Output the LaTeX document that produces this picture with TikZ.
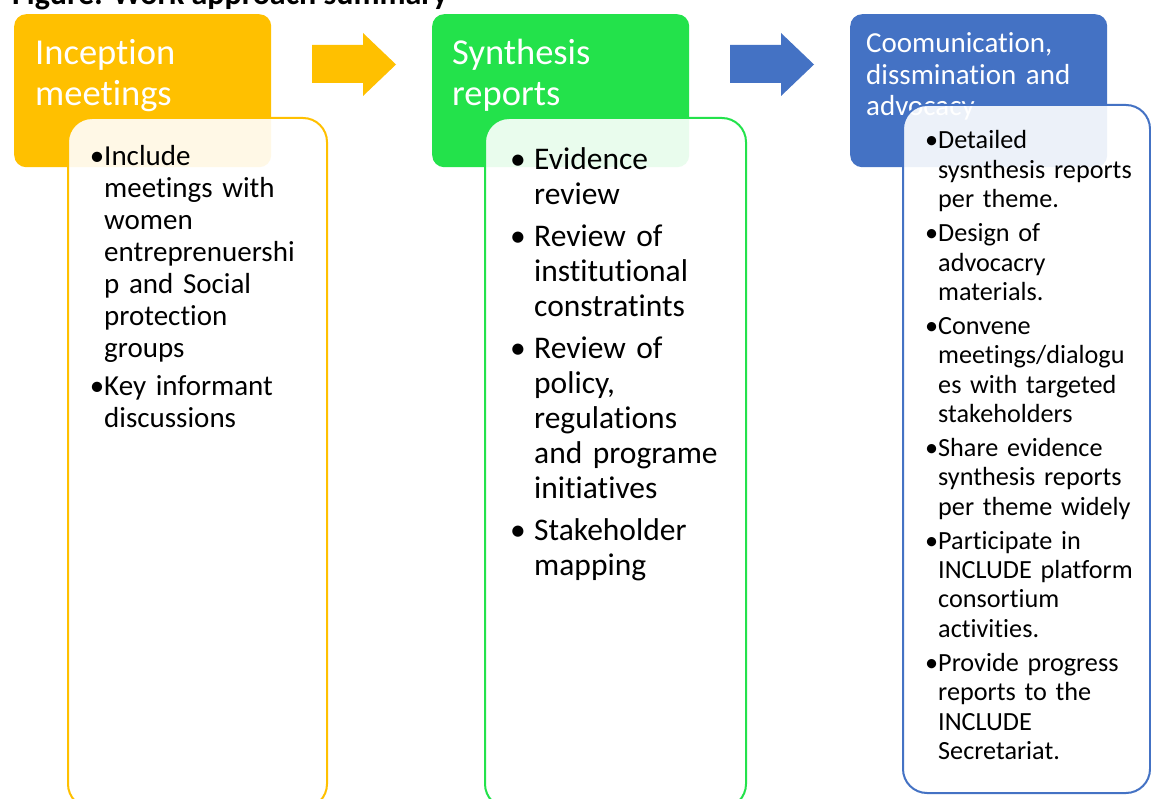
\documentclass[tikz,border=0pt]{standalone}
\usepackage{fontspec}
\setmainfont{Carlito}[Ligatures=NoCommon]
\definecolor{ylw}{HTML}{FFC000}
\definecolor{grn}{HTML}{23E24B}
\definecolor{blu}{HTML}{4472C4}
\newcommand\ftitle{\fontsize{32}{38}\selectfont\bfseries}
\newcommand\fhdrA{\fontsize{36.5}{41}\selectfont}
\newcommand\fhdrB{\fontsize{29}{31.5}\selectfont}
\newcommand\fbodyY{\fontsize{29}{32}\selectfont}
\newcommand\fbodyG{\fontsize{31.5}{35}\selectfont}
\newcommand\fbodyB{\fontsize{26.2}{29.4}\selectfont}
\newcommand\bul{\leavevmode\llap{\textbullet}}
\newcommand\bulG{\leavevmode\llap{\textbullet\hspace{8.5pt}}}
\tikzset{
  hdr/.style={rectangle, rounded corners=12pt, minimum width=257pt, minimum height=153pt,
    anchor=north west, inner sep=0pt, draw=none},
  det/.style={rectangle, rounded corners=24pt, line width=2pt, fill=white, fill opacity=0.9,
    anchor=north west, inner sep=0pt},
  htxt/.style={anchor=base west, inner sep=0pt, text=white, align=left, text width=250pt},
  btxt/.style={anchor=base west, inner sep=0pt, text=black, align=left, text width=240pt},
}
\begin{document}
\begin{tikzpicture}[x=1pt,y=-1pt]
\useasboundingbox (0,0) rectangle (1151,799);
\clip (0,0) rectangle (1151,799);
\fill[white] (0,0) rectangle (1151,799);

% title (cut off at top)
\node[anchor=base west, inner sep=0pt] (title) at (12,4.5) {\ftitle Figure: Work approach summary};

% ---------- column 1 ----------
\node[hdr, fill=ylw] (h1) at (14,14) {};
\node[htxt, font=\fhdrA] (h1t) at (35,65) {Inception\\meetings};
\node[det, draw=ylw, minimum width=259pt, minimum height=690pt] (d1) at (67,117) {};
\node[btxt, font=\fbodyY] (d1t) at (104,166) {\bul Include\\meetings with\\women\\entreprenuershi\\p and Social\\protection\\groups\\[6pt]\bul Key informant\\discussions};

% arrow 1
\fill[ylw] (312,45) -- (363,45) -- (363,33) -- (396,64.5) -- (363,96) -- (363,83) -- (312,83) -- cycle;

% ---------- column 2 ----------
\node[hdr, fill=grn] (h2) at (432,14) {};
\node[htxt, font=\fhdrA] (h2t) at (452,65) {Synthesis\\reports};
\node[det, draw=grn, minimum width=261pt, minimum height=690pt] (d2) at (484,117) {};
\node[btxt, font=\fbodyG] (d2t) at (534,170) {\bulG Evidence\\review\\[7pt]\bulG Review of\\institutional\\constratints\\[7pt]\bulG Review of\\policy,\\regulations\\and programe\\initiatives\\[7pt]\bulG Stakeholder\\mapping};

% arrow 2
\fill[blu] (730,45) -- (781,45) -- (781,33) -- (814,64.5) -- (781,96) -- (781,83) -- (730,83) -- cycle;

% ---------- column 3 ----------
\node[hdr, fill=blu] (h3) at (850,14) {};
\node[htxt, font=\fhdrB] (h3t) at (866,53) {Coomunication,\\dissmination and\\advocacy};
\node[det, draw=blu, minimum width=247pt, minimum height=688pt] (d3) at (902,104) {};
\node[btxt, font=\fbodyB] (d3t) at (938,149) {\bul Detailed\\sysnthesis reports\\per theme.\\[4.5pt]\bul Design of\\advocacry\\materials.\\[4.5pt]\bul Convene\\meetings/dialogu\\es with targeted\\stakeholders\\[4.5pt]\bul Share evidence\\synthesis reports\\per theme widely\\[4.5pt]\bul Participate in\\INCLUDE platform\\consortium\\activities.\\[4.5pt]\bul Provide progress\\reports to the\\INCLUDE\\Secretariat.};
\end{tikzpicture}
\end{document}
